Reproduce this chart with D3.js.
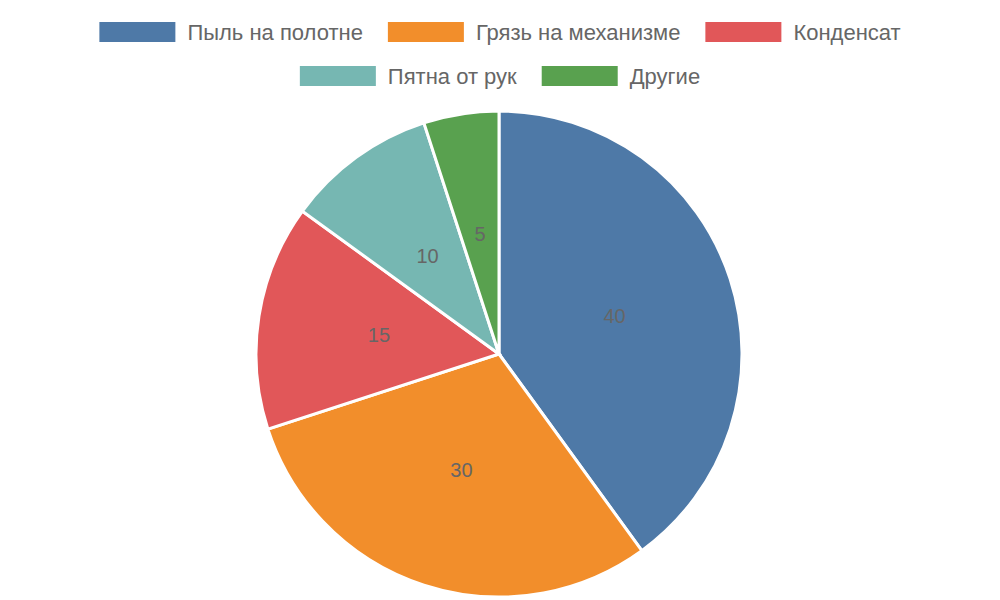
<!DOCTYPE html>
<html>
<head>
<meta charset="utf-8">
<script src="https://cdn.jsdelivr.net/npm/d3@7"></script>
<style>
  body { margin: 0; background: #fff; }
  text { font-family: "Liberation Sans", Arial, sans-serif; }
</style>
</head>
<body>
<svg id="chart" width="1000" height="600"></svg>
<script>
// data
var categories = ["Пыль на полотне", "Грязь на механизме", "Конденсат", "Пятна от рук", "Другие"];
var values = [40, 30, 15, 10, 5];
var colors = ["#4e79a7", "#f28e2b", "#e15759", "#76b7b2", "#59a14f"];
var legendRows = [[0, 1, 2], [3, 4]];

var svg = d3.select("#chart");
var cx = 499, cy = 354, radius = 243;

var pie = d3.pie().sort(null).value(function(d) { return d.v; });
var arc = d3.arc().innerRadius(0).outerRadius(radius);
var labelArc = d3.arc().innerRadius(radius * 0.5).outerRadius(radius * 0.5);

var data = categories.map(function(c, i) { return { name: c, v: values[i], color: colors[i] }; });

var g = svg.append("g").attr("transform", "translate(" + cx + "," + cy + ")");
var slices = g.selectAll("g.slice").data(pie(data)).enter().append("g").attr("class", "slice");

slices.append("path")
  .attr("d", arc)
  .attr("fill", function(d) { return d.data.color; })
  .attr("stroke", "#fff")
  .attr("stroke-width", 3);

slices.append("text")
  .attr("transform", function(d) { return "translate(" + labelArc.centroid(d) + ")"; })
  .attr("text-anchor", "middle")
  .attr("dy", "0.35em")
  .attr("font-size", 20)
  .attr("fill", "#666")
  .text(function(d) { return d.data.v; });

// legend, two centred rows
var swW = 76, swH = 20, swGap = 12, itemGap = 25;
legendRows.forEach(function(row, r) {
  var y = 32 + r * 44;
  var lg = svg.append("g");
  var x = 0;
  row.forEach(function(i) {
    lg.append("rect").attr("x", x).attr("y", y - swH / 2).attr("width", swW).attr("height", swH).attr("fill", colors[i]);
    var t = lg.append("text").attr("x", x + swW + swGap).attr("y", y).attr("dy", "0.35em")
      .attr("font-size", 22).attr("fill", "#666").text(categories[i]);
    x += swW + swGap + t.node().getComputedTextLength() + itemGap;
  });
  var total = x - itemGap;
  lg.attr("transform", "translate(" + (500 - total / 2) + ",0)");
});
</script>
</body>
</html>
